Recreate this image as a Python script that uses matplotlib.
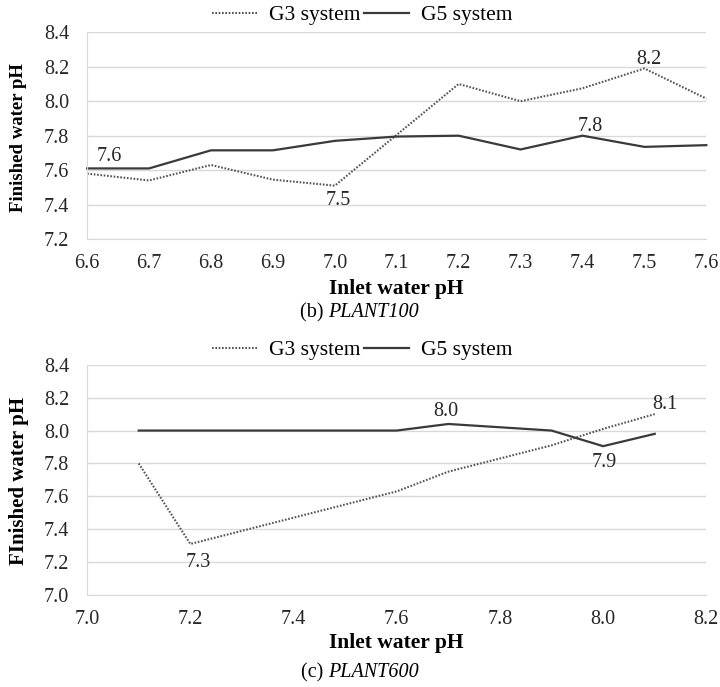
import matplotlib.pyplot as plt
from matplotlib.lines import Line2D

plt.rcParams['font.family'] = ['Liberation Serif', 'DejaVu Serif']

# (b) PLANT100
x_b = [6.6, 6.7, 6.8, 6.9, 7.0, 7.1, 7.2, 7.3, 7.4, 7.5, 7.6]
g3_b = [7.58, 7.54, 7.63, 7.545, 7.51, 7.805, 8.10, 8.00, 8.075, 8.19, 8.015]
g5_b = [7.61, 7.61, 7.715, 7.715, 7.77, 7.795, 7.80, 7.72, 7.80, 7.735, 7.745]

# (c) PLANT600
x3_c = [7.1, 7.2, 7.6, 7.7, 7.9, 8.0, 8.1]
g3_c = [7.80, 7.31, 7.63, 7.75, 7.91, 8.01, 8.10]
x5_c = [7.1, 7.6, 7.7, 7.9, 8.0, 8.1]
g5_c = [8.0, 8.0, 8.04, 8.0, 7.905, 7.98]

grid_c = '#d9d9d9'
dot_c = '#555555'
solid_c = '#3a3a3a'
txt_c = '#262626'
dots = (0, (0.8, 0.8))
fs = 14.5

fig = plt.figure(figsize=(7.2, 6.87), dpi=100)
ax1 = fig.add_axes([0.121, 0.652, 0.860, 0.301])
ax2 = fig.add_axes([0.121, 0.134, 0.860, 0.335])


def style(ax, ylim, yticks, xlim, xticks, ylabel, xlab_y, ylab_fig_y, ylab_fs):
    ax.set_xlim(*xlim)
    ax.set_ylim(*ylim)
    ax.set_yticks(yticks)
    ax.set_xticks(xticks)
    ax.set_yticklabels(['%.1f' % v for v in yticks], fontsize=fs)
    ax.set_xticklabels(['%.1f' % v for v in xticks], fontsize=fs)
    ax.grid(axis='y', color=grid_c, lw=1)
    ax.set_axisbelow(True)
    for s in ['top', 'right']:
        ax.spines[s].set_visible(False)
    for s in ['left', 'bottom']:
        ax.spines[s].set_color(grid_c)
    ax.tick_params(length=0, colors=txt_c)
    ax.tick_params(axis='x', pad=11)
    ax.tick_params(axis='y', pad=13)
    ax.set_xlabel('Inlet water pH', fontsize=15.5, fontweight='bold', color='black')
    ax.xaxis.label.set_va('center')
    ax.xaxis.set_label_coords(0.5, xlab_y)
    fig.text(0.026, ylab_fig_y, ylabel, rotation=90, ha='center', va='center',
             fontsize=ylab_fs, fontweight='bold')


def tag(ax, x, y, s, dx, dy):
    ax.annotate(s, (x, y), xytext=(dx, dy), textcoords='offset pixels',
                ha='center', va='center', fontsize=fs, color=txt_c)


style(ax1, (7.2, 8.4), [7.2, 7.4, 7.6, 7.8, 8.0, 8.2, 8.4], (6.6, 7.6),
      x_b, 'Finished water pH', -0.24, 0.800, 13.5)
ax1.plot(x_b, g3_b, ls=dots, color=dot_c, lw=1.5, clip_on=False)
ax1.plot(x_b, g5_b, ls='-', color=solid_c, lw=1.6, clip_on=False)
tag(ax1, x_b[0], g5_b[0], '7.6', 22, 12)
tag(ax1, x_b[4], g3_b[4], '7.5', 3, -15)
tag(ax1, x_b[8], g5_b[8], '7.8', 8, 9)
tag(ax1, x_b[9], g3_b[9], '8.2', 4, 9)

style(ax2, (7.0, 8.4), [7.0, 7.2, 7.4, 7.6, 7.8, 8.0, 8.2, 8.4], (7.0, 8.2),
      [7.0, 7.2, 7.4, 7.6, 7.8, 8.0, 8.2], 'FInished water pH', -0.21, 0.30, 15)
ax2.plot(x3_c, g3_c, ls=dots, color=dot_c, lw=1.5)
ax2.plot(x5_c, g5_c, ls='-', color=solid_c, lw=1.6)
tag(ax2, x5_c[2], g5_c[2], '8.0', -3, 12)
tag(ax2, x3_c[6], g3_c[6], '8.1', 10, 10)
tag(ax2, x5_c[4], g5_c[4], '7.9', 1, -16)
tag(ax2, x3_c[1], g3_c[1], '7.3', 8, -19)

handles = [Line2D([], [], ls=dots, color=dot_c, lw=1.5),
           Line2D([], [], ls='-', color=solid_c, lw=1.6)]
for yy in [0.978, 0.4905]:
    fig.legend(handles, ['G3 system', 'G5 system'], loc='center',
               bbox_to_anchor=(0.5035, yy), ncol=2, frameon=False, fontsize=15.5,
               handlelength=2.1, handletextpad=0.55, columnspacing=0.15,
               borderaxespad=0, borderpad=0)

fig.text(0.4556, 0.5444, '(b) ', ha='right', va='center', fontsize=fs)
fig.text(0.4556, 0.5444, 'PLANT100', ha='left', va='center', fontsize=fs, style='italic')
fig.text(0.4556, 0.0204, '(c) ', ha='right', va='center', fontsize=fs)
fig.text(0.4556, 0.0204, 'PLANT600', ha='left', va='center', fontsize=fs, style='italic')

fig.savefig('out.png', dpi=100)
